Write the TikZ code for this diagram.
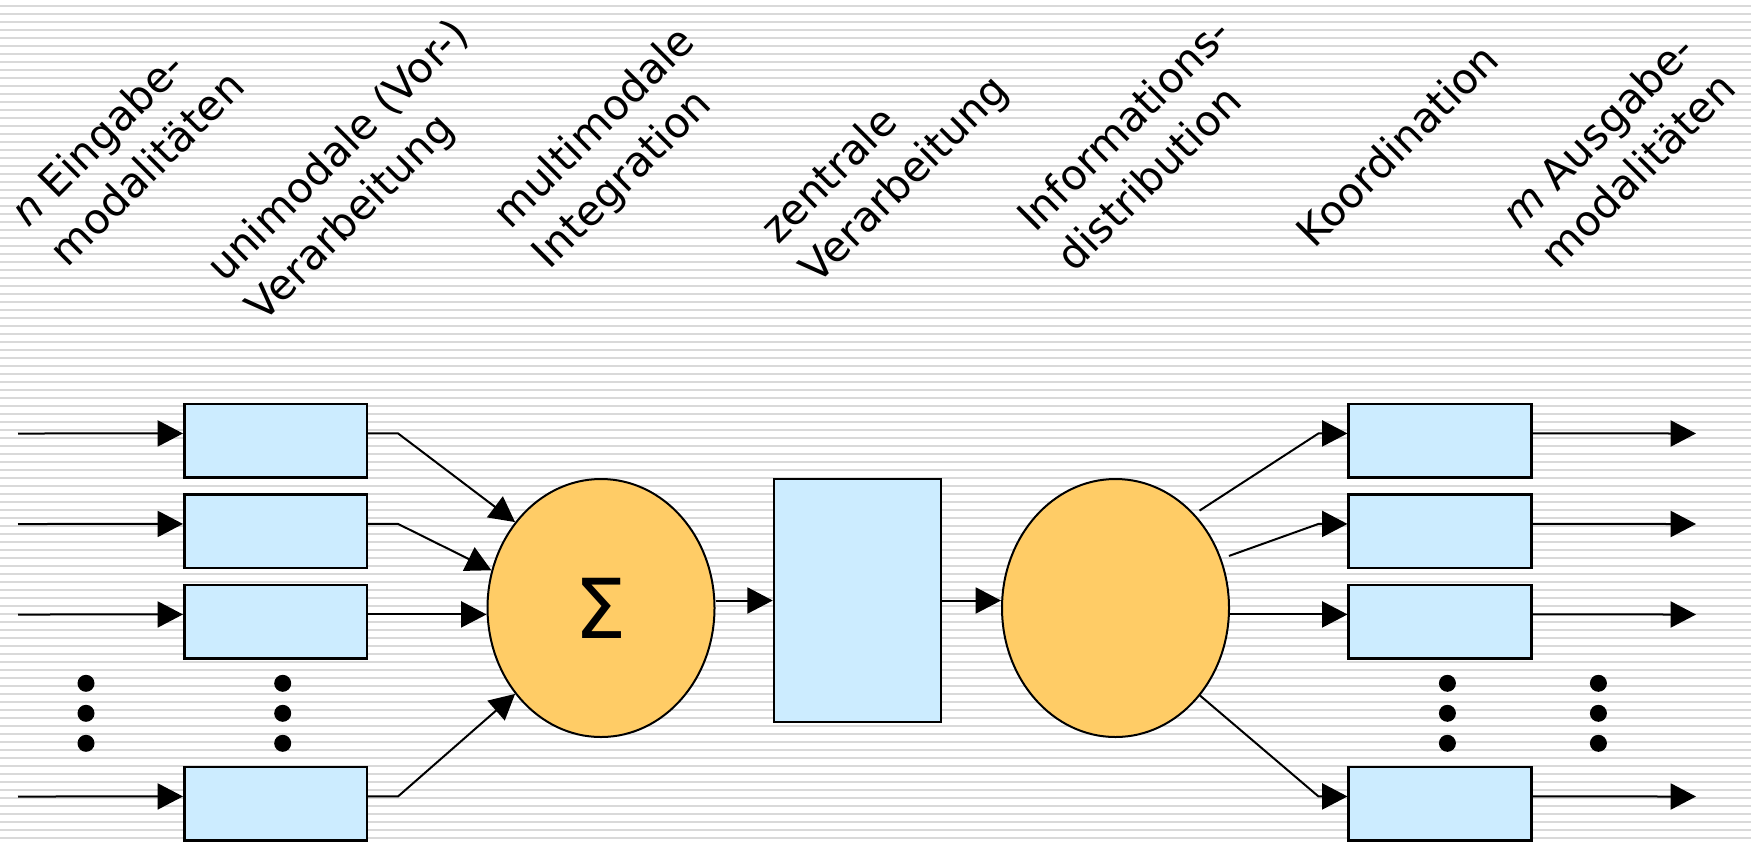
\documentclass[tikz,border=0pt]{standalone}
\usepackage{fontspec}
\setmainfont{DejaVu Sans}
\usetikzlibrary{arrows.meta,shapes.geometric}

\definecolor{boxblue}{RGB}{204,236,255}
\definecolor{sumorange}{RGB}{255,204,102}
\definecolor{ruling}{RGB}{217,217,217}

\begin{document}
\begin{tikzpicture}[x=0.75pt,y=-0.75pt,
  modbox/.style={draw=black,line width=1.9pt,fill=boxblue,
    minimum width=136.9pt,minimum height=55.1pt,inner sep=0pt},
  centerbox/.style={draw=black,line width=1.9pt,fill=boxblue,
    minimum width=125.25pt,minimum height=182.25pt,inner sep=0pt},
  oval/.style={ellipse,draw=black,line width=1.5pt,fill=sumorange,
    minimum width=170.25pt,minimum height=193.5pt,inner sep=0pt},
  conn/.style={line width=1.5pt,-{Triangle[length=19pt,width=19.5pt]}},
  dotnode/.style={circle,fill=black,minimum size=12.75pt,inner sep=0pt},
  % the base anchor of a two-line heading sits on its second line
  lbl/.style={rotate=45,anchor=base west,align=left,inner sep=0pt,
    font=\fontsize{31.5}{42}\selectfont},
]
% page and ruled background
\useasboundingbox (0,0) rectangle (1751,844);
\fill[white] (0,0) rectangle (1751,844);
\foreach \k in {0,...,104}
  \draw[ruling,line width=1.5pt] (0,5.67+8*\k) -- (1751,5.67+8*\k);

% column headings
\node[lbl] (t1) at (67.6,268.6) {\textit{n} Eingabe-\\modalitäten};
\node[lbl] (t2) at (263.6,323.6) {unimodale (Vor-)\\Verarbeitung};
\node[lbl] (t3) at (549.6,270.6) {multimodale\\Integration};
\node[lbl] (t4) at (817.6,285.6) {zentrale\\Verarbeitung};
\node[lbl] (t5) at (1074.6,273.6) {Informations-\\distribution};
\node[lbl] (t6) at (1314,250) {Koordination};
\node[lbl] (t7) at (1558.6,270.6) {\textit{m} Ausgabe-\\modalitäten};

% unimodal processing boxes
\node[modbox] (L1) at (275.5,440.75) {};
\node[modbox] (L2) at (275.5,531.25) {};
\node[modbox] (L3) at (275.5,621.75) {};
\node[modbox] (L5) at (275.5,803.75) {};

% integration, central processing, distribution
\node[oval,font=\fontsize{62}{70}\selectfont] (sig) at (601,608) {Σ};
\node[centerbox] (zv) at (857.5,600.5) {};
\node[oval] (dist) at (1115.5,608) {};

% coordination boxes
\node[modbox] (R1) at (1440,440.75) {};
\node[modbox] (R2) at (1440,531.25) {};
\node[modbox] (R3) at (1440,621.75) {};
\node[modbox] (R5) at (1440,803.75) {};

% ellipsis dots
\foreach \c/\x in {a/86,b/282.7,c/1447.4,d/1598.4}{
  \node[dotnode] (dot\c1) at (\x,683.3) {};
  \node[dotnode] (dot\c2) at (\x,713.3) {};
  \node[dotnode] (dot\c3) at (\x,743.3) {};
}

% free ends of the input and output lines
\coordinate (in1) at (18,433.5);
\coordinate (in2) at (18,524);
\coordinate (in3) at (18,614.5);
\coordinate (in5) at (18,796.5);
\coordinate (out1) at (1696,433.5);
\coordinate (out2) at (1696,524);
\coordinate (out3) at (1696,614.5);
\coordinate (out5) at (1696,796.5);

% inputs
\draw[conn] (in1) -- ([yshift=5.5pt]L1.west);
\draw[conn] (in2) -- ([yshift=5.5pt]L2.west);
\draw[conn] (in3) -- ([yshift=5.5pt]L3.west);
\draw[conn] (in5) -- ([yshift=5.5pt]L5.west);

% into the integration stage
\draw[conn] ([yshift=5.5pt]L1.east) -- ++(30,0) -- (sig.135);
\draw[conn] ([yshift=5.5pt]L2.east) -- ++(30,0) -- (sig.161);
\coordinate (l3o) at ([yshift=5.5pt]L3.east);
\draw[conn] (l3o) -- (l3o -| sig.west);
\draw[conn] ([yshift=5.5pt]L5.east) -- ++(30,0) -- (sig.225);

% central chain
\draw[conn] (sig.east |- zv.west) -- (zv.west);
\draw[conn] (zv.east) -- (zv.east -| dist.west);

% distribution to the output boxes
\coordinate (r1i) at ([yshift=5.5pt]R1.west);
\coordinate (r2i) at ([yshift=5.5pt]R2.west);
\coordinate (r3i) at ([yshift=5.5pt]R3.west);
\coordinate (r5i) at ([yshift=5.5pt]R5.west);
\draw[conn,shorten <=4.5pt] (dist.50) -- ([xshift=-21.75pt]r1i) -- (r1i);
\draw[conn,shorten <=6pt] (dist.25) -- ([xshift=-21.75pt]r2i) -- (r2i);
\draw[conn] (r3i -| dist.east) -- (r3i);
\draw[conn] (dist.314) -- ([xshift=-21.75pt]r5i) -- (r5i);

% outputs
\draw[conn] ([yshift=5.5pt]R1.east) -- (out1);
\draw[conn] ([yshift=5.5pt]R2.east) -- (out2);
\draw[conn] ([yshift=5.5pt]R3.east) -- (out3);
\draw[conn] ([yshift=5.5pt]R5.east) -- (out5);
\end{tikzpicture}
\end{document}
